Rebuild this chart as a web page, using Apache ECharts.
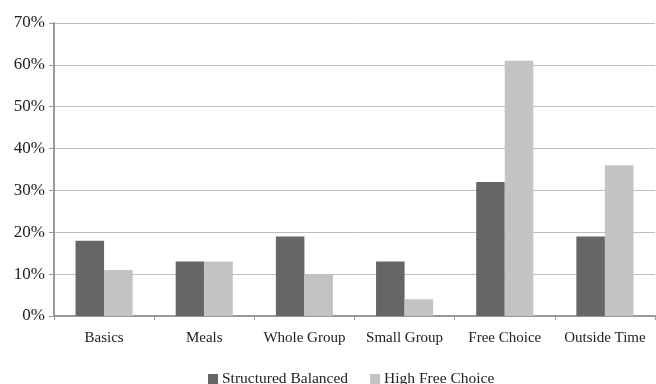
<!DOCTYPE html>
<html>
<head>
<meta charset="utf-8">
<script src="https://cdn.jsdelivr.net/npm/echarts@6/dist/echarts.min.js"></script>
<style>
  html, body { margin: 0; padding: 0; background: #fff; }
  #chart { width: 656px; height: 384px; }
</style>
</head>
<body>
<div id="chart"></div>
<script>
var categories = ['Basics', 'Meals', 'Whole Group', 'Small Group', 'Free Choice', 'Outside Time'];
var structuredBalanced = [18, 13, 19, 13, 32, 19];
var highFreeChoice = [11, 13, 10, 4, 61, 36];
var seriesNames = ['Structured Balanced', 'High Free Choice'];

var myChart = echarts.init(document.getElementById('chart'));
var fontFamily = '"Liberation Serif", "DejaVu Serif", serif';

var option = {
  backgroundColor: '#ffffff',
  animation: false,
  textStyle: { fontFamily: fontFamily },
  grid: {
    left: 54,
    right: 1,
    top: 23,
    bottom: 68,
    containLabel: false
  },
  legend: {
    data: seriesNames,
    top: 366,
    left: 203,
    itemWidth: 10,
    itemHeight: 10,
    itemGap: 22,
    icon: 'rect',
    textStyle: { color: '#222', fontSize: 15.5, fontFamily: fontFamily, padding: [0, 0, 0, -1] }
  },
  xAxis: {
    type: 'category',
    data: categories,
    axisLine: { lineStyle: { color: '#999', width: 2 } },
    axisTick: { show: true, length: 4, interval: 0, lineStyle: { color: '#999' } },
    axisLabel: { color: '#222', fontSize: 15, margin: 15, interval: 0, fontFamily: fontFamily }
  },
  yAxis: {
    type: 'value',
    min: 0,
    max: 70,
    interval: 10,
    axisLine: { show: true, lineStyle: { color: '#999', width: 2 } },
    axisTick: { show: true, length: 5, lineStyle: { color: '#999' } },
    axisLabel: {
      color: '#222',
      fontSize: 17,
      margin: 9,
      fontFamily: fontFamily,
      formatter: '{value}%'
    },
    splitLine: { show: true, lineStyle: { color: '#bdbdbd', width: 1 } }
  },
  series: [
    {
      name: seriesNames[0],
      type: 'bar',
      data: structuredBalanced,
      barGap: '0%',
      barCategoryGap: '43%',
      itemStyle: { color: '#666666' }
    },
    {
      name: seriesNames[1],
      type: 'bar',
      data: highFreeChoice,
      itemStyle: { color: '#c3c3c3' }
    }
  ]
};

myChart.setOption(option);
</script>
</body>
</html>
